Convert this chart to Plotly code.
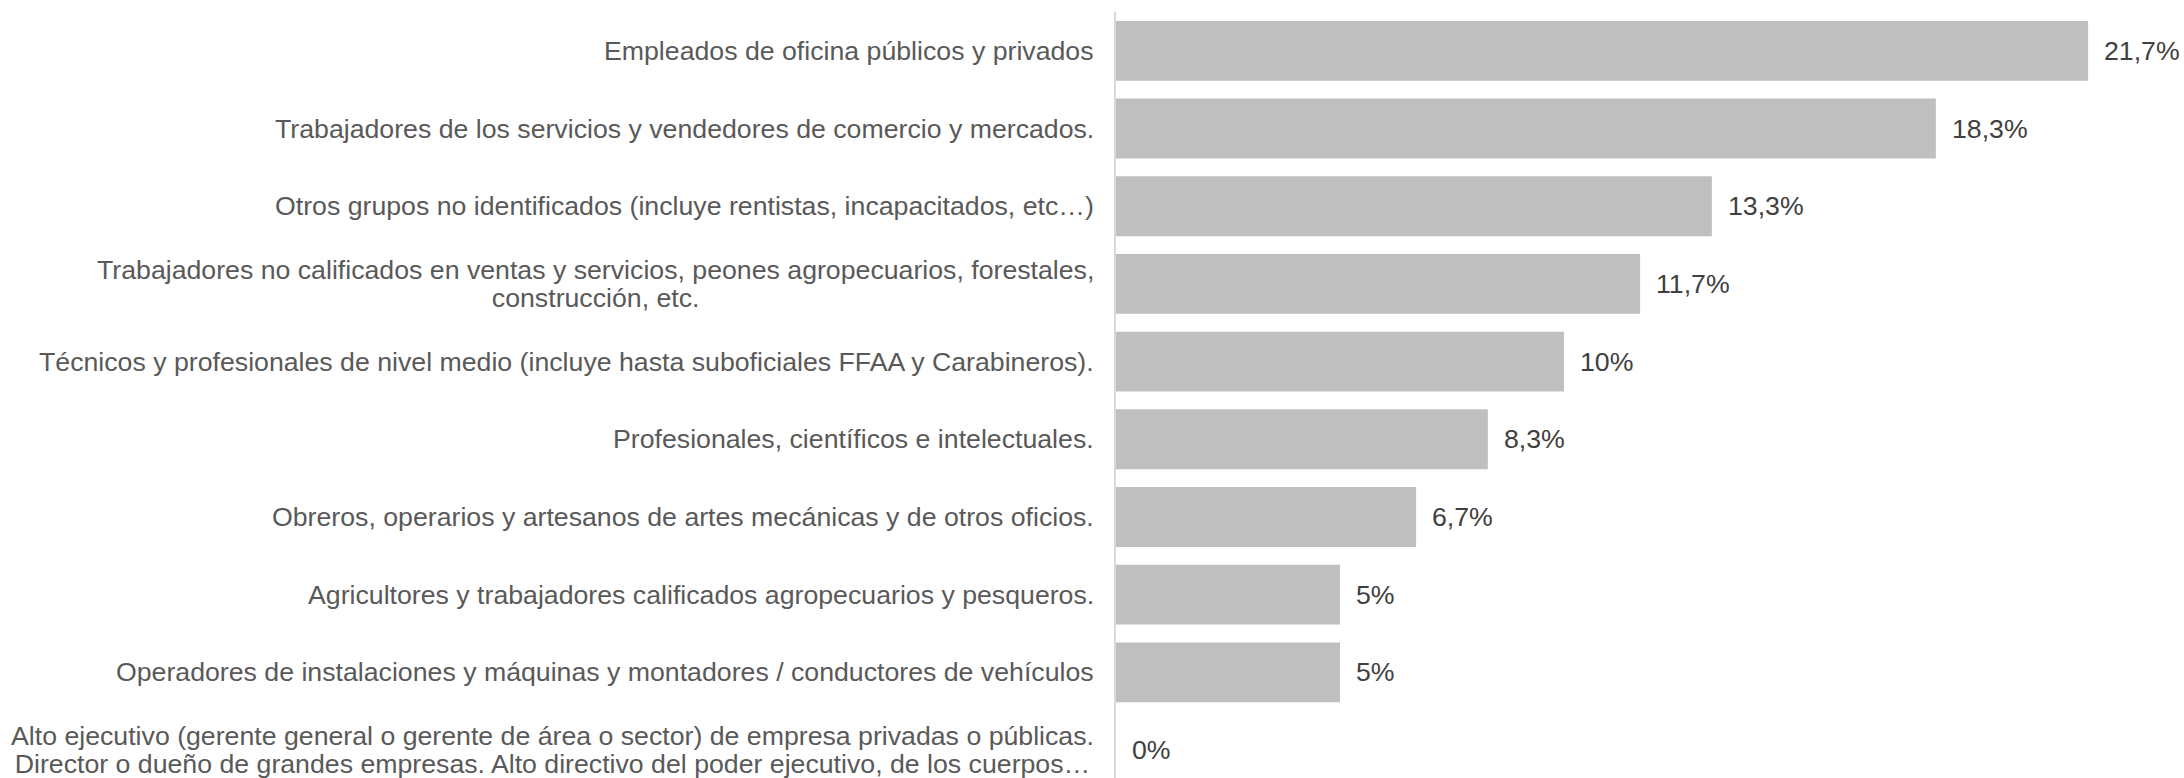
import plotly.graph_objects as go

categories = [
    "Empleados de oficina públicos y privados",
    "Trabajadores de los servicios y vendedores de comercio y mercados.",
    "Otros grupos no identificados (incluye rentistas, incapacitados, etc…)",
    "Trabajadores no calificados en ventas y servicios, peones agropecuarios, forestales,<br>construcción, etc.",
    "Técnicos y profesionales de nivel medio (incluye hasta suboficiales FFAA y Carabineros).",
    "Profesionales, científicos e intelectuales.",
    "Obreros, operarios y artesanos de artes mecánicas y de otros oficios.",
    "Agricultores y trabajadores calificados agropecuarios y pesqueros.",
    "Operadores de instalaciones y máquinas y montadores / conductores de vehículos",
    "Alto ejecutivo (gerente general o gerente de área o sector) de empresa privadas o públicas.<br>Director o dueño de grandes empresas. Alto directivo del poder ejecutivo, de los cuerpos…",
]
values = [21.7, 18.3, 13.3, 11.7, 10, 8.3, 6.7, 5, 5, 0]
value_labels = ["21,7%", "18,3%", "13,3%", "11,7%", "10%", "8,3%", "6,7%", "5%", "5%", "0%"]

FONT = "Liberation Sans, Arial, sans-serif"
FS = 26.7
LINE_FS = 21.5  # controls line spacing of wrapped category labels


def styled(label):
    return "<br>".join(
        f'<span style="font-size:{FS}px">{part}</span>' for part in label.split("<br>")
    )


fig = go.Figure(
    go.Bar(
        x=values,
        y=categories,
        orientation="h",
        marker=dict(color="#BFBFBF", line=dict(width=0)),
        hoverinfo="skip",
    )
)

annotations = []
for cat, val, lab in zip(categories, values, value_labels):
    annotations.append(dict(
        x=val, y=cat, xref="x", yref="y", text=lab, showarrow=False,
        xanchor="left", yanchor="middle", xshift=14,
        font=dict(family=FONT, size=FS, color="#404040"),
    ))
    annotations.append(dict(
        x=0, y=cat, xref="paper", yref="y", text=styled(cat), showarrow=False,
        xanchor="right", yanchor="middle", xshift=-20, align="center",
        font=dict(family=FONT, size=LINE_FS, color="#595959"),
    ))

fig.update_layout(
    width=2184, height=778,
    margin=dict(l=1116, r=0, t=12, b=0),
    paper_bgcolor="white", plot_bgcolor="white",
    showlegend=False,
    bargap=0.23,
    annotations=annotations,
    xaxis=dict(range=[0, 23.84], showgrid=False, zeroline=False,
               showticklabels=False, ticks="", showline=False, fixedrange=True),
    yaxis=dict(categoryorder="array", categoryarray=categories,
               range=[9.36, -0.5], showgrid=False, zeroline=False,
               showticklabels=False, ticks="", showline=True,
               linecolor="#D9D9D9", linewidth=2, fixedrange=True),
)

fig.write_html(
    "out.html",
    config={"displayModeBar": False},
    post_script="document.body.style.margin='0';document.body.style.overflow='hidden';",
)
